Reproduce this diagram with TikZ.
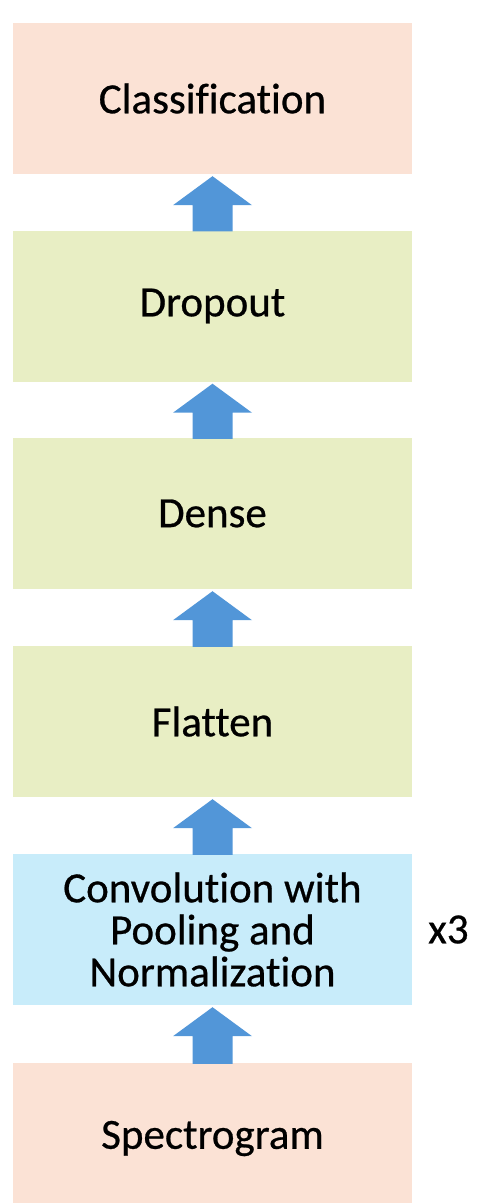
\documentclass[tikz,border=0pt]{standalone}
\usepackage{fontspec}
\setmainfont{Carlito}[Ligatures=NoCommon, FakeBold=0.6]
\usetikzlibrary{calc}
\definecolor{peach}{HTML}{FBE2D5}
\definecolor{lgreen}{HTML}{E8EEC4}
\definecolor{lblue}{HTML}{C8ECFA}
\definecolor{arrowblue}{HTML}{5296D8}
\tikzset{
  layer/.style={fill=#1, draw=none, minimum width=399pt, minimum height=151pt, inner sep=0pt,
    align=center, font=\fontsize{43}{42}\selectfont},
  uparrow/.style={fill=arrowblue, draw=none}
}
\newcommand{\uparr}[2]{%
  \fill[uparrow] ($(#1.north)+(-20,1)$) -- ($(#2.south)+(-20,31)$) -- ($(#2.south)+(-39.5,31)$)
    -- ($(#2.south)+(0,2)$) -- ($(#2.south)+(39.5,31)$) -- ($(#2.south)+(20,31)$)
    -- ($(#1.north)+(20,1)$) -- cycle;}
\begin{document}
\begin{tikzpicture}[x=1pt,y=-1pt]
\useasboundingbox (0,0) rectangle (503,1203);
\begin{scope}
\clip (0,0) rectangle (503,1203);
\node[layer=peach] (cls) at (212.5,98.5) {Classification};
\node[layer=lgreen] (drop) at (212.5,306) {Dropout};
\node[layer=lgreen] (dense) at (212.5,513.5) {Dense};
\node[layer=lgreen] (flat) at (212.5,721.5) {Flatten};
\node[layer=lblue] (conv) at (212.5,929.5) {Convolution with\\Pooling and\\Normalization};
\node[layer=peach] (spec) at (212.5,1138.5) {Spectrogram};
\node[anchor=west, inner sep=0pt, font=\fontsize{43}{42}\selectfont] (x3) at (428,929.5) {x3};
\uparr{spec}{conv}
\uparr{conv}{flat}
\uparr{flat}{dense}
\uparr{dense}{drop}
\uparr{drop}{cls}
\end{scope}
\end{tikzpicture}
\end{document}
